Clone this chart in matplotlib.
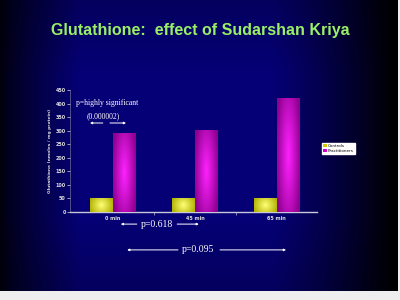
import numpy as np
import matplotlib.pyplot as plt
from matplotlib.colors import LinearSegmentedColormap

# data
times = ["0 min", "45 min", "65 min"]
controls = [50, 50, 50]
practitioners = [290, 301, 419]
yticks = [0, 50, 100, 150, 200, 250, 300, 350, 400, 450]

fig = plt.figure(figsize=(4, 3), dpi=100, facecolor="#eeeeee")

# background gradient: navy in the middle, black towards the left and right edges
bg = fig.add_axes([0, 0.03, 0.995, 0.97])
xx = np.linspace(0, 1, 400)
yy = np.linspace(0, 1, 300)
X, Y = np.meshgrid(xx, yy)
right = 1 - np.clip((X - 0.68) / 0.31, 0, 1) ** 1.2
left = np.clip(X / 0.2, 0, 1) ** 0.8
lum = np.clip(right * (0.1 + 0.9 * left), 0, 1)
lum = lum * (0.8 + 0.2 * np.clip(Y / 0.25, 0, 1)) * (0.8 + 0.2 * np.clip((1 - Y) / 0.25, 0, 1))
img = np.zeros((300, 400, 3))
img[..., 2] = 0.46 * lum
img[..., 0] = 0.02 * lum
bg.imshow(img, extent=[0, 1, 0, 1], aspect="auto", origin="upper")
bg.axis("off")

ax = fig.add_axes([0.175, 0.294, 0.6175, 0.406])
ax.patch.set_alpha(0)
x = np.arange(len(times))
w = 0.28
b1 = ax.bar(x - w / 2, controls, w, color="#cccc00", label="Controls", zorder=2)
b2 = ax.bar(x + w / 2, practitioners, w, color="#cc00cc", label="Practitioners", zorder=2)


def glow(bars, inner, outer, sq):
    cmap = LinearSegmentedColormap.from_list("g", [inner, outer])
    u = np.linspace(-1, 1, 60)
    U, V = np.meshgrid(u, u)
    for b in bars:
        r = np.sqrt(U ** 2 + (sq * V) ** 2)
        ax.imshow(r, cmap=cmap, vmin=0, vmax=1.1, aspect="auto", zorder=3,
                  extent=[b.get_x(), b.get_x() + b.get_width(), 0, b.get_height()])


glow(b1, "#ffff77", "#b0b000", 0.6)
glow(b2, "#ff22ff", "#8e008e", 0.7)

ax.set_xlim(-0.524, 2.49)
ax.set_ylim(0, 450)
ax.set_yticks(yticks)
ax.set_xticks(x)
ax.set_xticklabels(times)
ax.set_xticks([0.5, 1.5], minor=True)
ax.tick_params(axis="y", colors="#dddddd", labelsize=3.5, length=2, width=0.5, pad=1)
ax.tick_params(axis="x", colors="#dddddd", labelsize=3.5, length=0, pad=3)
ax.tick_params(axis="x", which="minor", length=2, width=0.5, colors="#bbbbcc")
for t in ax.get_xticklabels() + ax.get_yticklabels():
    t.set_fontweight("bold")
for s in ["top", "right"]:
    ax.spines[s].set_visible(False)
ax.spines["bottom"].set_color("#c8c8d8")
ax.spines["bottom"].set_linewidth(1.0)
ax.spines["left"].set_color("#8888aa")
ax.spines["left"].set_linewidth(0.4)
ax.set_ylabel("Glutathione (nmoles / mg protein)", fontsize=3.2, color="#dddddd",
              fontweight="bold", labelpad=3)

leg = ax.legend(loc="center left", bbox_to_anchor=(0.8, 0.505), bbox_transform=fig.transFigure,
                fontsize=3, frameon=True, fancybox=False, handlelength=0.8, handleheight=0.8,
                borderpad=0.3, labelspacing=0.3, handletextpad=0.3)
leg.get_frame().set_facecolor("white")
leg.get_frame().set_edgecolor("white")
leg.get_frame().set_alpha(1)

fig.text(0.5, 0.9, "Glutathione:  effect of Sudarshan Kriya", ha="center", va="center",
         fontsize=11.5, fontweight="bold", color="#99f066", family="Liberation Sans")

serif = "Liberation Serif"
fig.text(0.19, 0.657, "p=highly significant", fontsize=5.5, color="white", family=serif, va="center")
fig.text(0.258, 0.613, "(0.000002)", fontsize=5.5, color="white", family=serif, va="center", ha="center")
fig.text(0.393, 0.253, "p=0.618", fontsize=7, color="white", family=serif, va="center", ha="center")
fig.text(0.495, 0.167, "p=0.095", fontsize=7, color="white", family=serif, va="center", ha="center")

arrows = [
    (0.257, 0.225, 0.59), (0.275, 0.315, 0.59),
    (0.342, 0.302, 0.253), (0.443, 0.497, 0.253),
    (0.445, 0.318, 0.167), (0.55, 0.715, 0.167),
]
for x0, x1, yv in arrows:
    fig.add_artist(plt.Annotation("", xy=(x1, yv), xytext=(x0, yv), xycoords="figure fraction",
                                  arrowprops=dict(arrowstyle="-|>", color="white", lw=0.7,
                                                  mutation_scale=3, shrinkA=0, shrinkB=0)))

fig.savefig("out.png", dpi=100, facecolor=fig.get_facecolor())
